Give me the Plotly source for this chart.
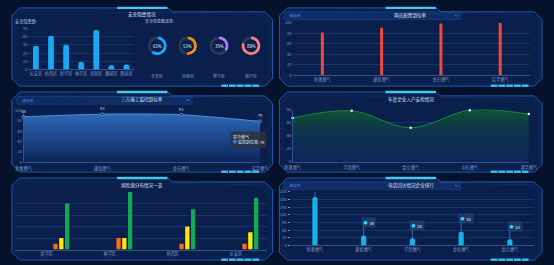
import plotly.graph_objects as go

W, H = 554, 265
FONT = "Noto Sans CJK SC"

# ---------------- data ----------------
p1_districts = ["长安区", "桥西区", "新华区", "裕华区", "高新区", "藁城区", "鹿泉区"]
p1_hazards = [29, 41, 30, 9, 48, 5, 6]
p1_rate_districts = ["长安区", "桥西区", "新华区", "裕华区"]
p1_rates = [61, 51, 35, 80]

p2_companies = ["新奥燃气", "建投燃气", "金石燃气", "实华燃气"]
p2_rates = [81, 90, 98, 99]

p3_companies = ["新奥燃气", "建投燃气", "金石燃气", "实华燃气"]
p3_rates = [88, 93, 92, 79]

p4_companies = ["新奥燃气", "华润燃气", "昆仑燃气", "中石燃气", "港华燃气"]
p4_values = [67, 78, 52, 79, 73]

p5_districts = ["新华区", "裕华区", "桥西区", "长安区"]
p5_major = [1, 2, 1, 1]
p5_larger = [2, 2, 4, 3]
p5_general = [8, 10, 7, 9]

p6_companies = ["新奥燃气", "建投燃气", "华润燃气", "金和燃气", "昆仑燃气"]
p6_values = [190, 39, 28, 54, 24]

titles = ["安全隐患情况", "两员配置到位率", "三方施工监控到位率",
          "年度企业入户安检情况", "风险源分布情况一览", "电话回访情况企业排行"]

# ---------------- helpers ----------------
def X(px):
    return px / W

def Y(py):
    return 1 - py / H

TICK = "#8398c2"
GRID = "rgba(45,90,165,0.35)"
AXL = "rgba(70,120,200,0.6)"

def xaxis(x0, x1, anchor, **kw):
    d = dict(domain=[X(x0), X(x1)], anchor=anchor, showgrid=False, zeroline=False,
             tickfont=dict(size=4.2, color=TICK, family=FONT), ticks="",
             showline=True, linecolor=AXL, linewidth=0.6, fixedrange=True)
    d.update(kw)
    return d

def yaxis(ytop, ybot, anchor, rng, dtick, **kw):
    d = dict(domain=[Y(ybot), Y(ytop)], anchor=anchor, range=rng, dtick=dtick,
             showgrid=True, gridcolor=GRID, gridwidth=0.5, zeroline=False,
             tickfont=dict(size=4.2, color=TICK, family=FONT), ticks="",
             showline=False, linecolor=AXL, linewidth=0.6, fixedrange=True)
    d.update(kw)
    return d

fig = go.Figure()

# ---- panel 1: bars ----
fig.add_trace(go.Bar(x=p1_districts, y=p1_hazards, xaxis="x", yaxis="y", width=0.38,
                     marker=dict(color="#1aa8f2", cornerradius=2, line=dict(width=0)),
                     hoverinfo="skip", showlegend=False))

# ---- panel 1: donuts ----
donut_cx = [154, 185.3, 217.7, 250.7]
donut_cy = 42.7
donut_r = 9.6
donut_colors = ["#1ea6ff", "#ff8a1c", "#b07cf7", "#ff7d7d"]
for i, v in enumerate(p1_rates):
    cx = donut_cx[i]
    fig.add_trace(go.Pie(values=[v, 100 - v], hole=0.7, sort=False, direction="clockwise",
                         marker=dict(colors=[donut_colors[i], "#2b3957"], line=dict(width=0)),
                         textinfo="none", hoverinfo="skip", showlegend=False,
                         domain=dict(x=[X(cx - donut_r), X(cx + donut_r)],
                                     y=[Y(donut_cy + donut_r), Y(donut_cy - donut_r)])))

# ---- panel 2: thin bars ----
fig.add_trace(go.Bar(x=p2_companies, y=p2_rates, xaxis="x2", yaxis="y2", width=0.05,
                     marker=dict(color="#f2493a", line=dict(width=0)),
                     hoverinfo="skip", showlegend=False))

# ---- panel 3: blue area ----
fig.add_trace(go.Scatter(x=p3_companies, y=p3_rates, xaxis="x3", yaxis="y3",
                         mode="lines+markers+text", text=[str(v) for v in p3_rates],
                         textposition="top center",
                         textfont=dict(size=4.2, color="#c9d6ee", family=FONT),
                         line=dict(color="#4d8fe4", width=1, shape="spline", smoothing=0.6),
                         marker=dict(size=3, color="#123064", line=dict(color="#86b4f0", width=0.6)),
                         fill="tozeroy",
                         fillgradient=dict(type="vertical",
                                           colorscale=[[0, "rgba(13,38,90,0.95)"],
                                                       [1, "rgba(48,108,190,0.95)"]]),
                         hoverinfo="skip", showlegend=False, cliponaxis=False))

# ---- panel 4: green area ----
fig.add_trace(go.Scatter(x=p4_companies, y=p4_values, xaxis="x4", yaxis="y4",
                         mode="lines+markers",
                         line=dict(color="#16873f", width=1, shape="spline", smoothing=1.0),
                         marker=dict(size=2.5, color="#e6f0ff"),
                         fill="tozeroy",
                         fillgradient=dict(type="vertical",
                                           colorscale=[[0, "rgba(14,38,92,0.9)"],
                                                       [0.55, "rgba(14,52,78,0.9)"],
                                                       [1, "rgba(14,84,48,0.95)"]]),
                         hoverinfo="skip", showlegend=False, cliponaxis=False))

# ---- panel 5: grouped bars ----
p5_series = [(p5_major, "#ff6a10", 0.105), (p5_larger, "#ffe600", 0.197), (p5_general, "#13a852", 0.289)]
for vals, col, off in p5_series:
    fig.add_trace(go.Bar(x=p5_districts, y=vals, xaxis="x5", yaxis="y5", width=0.068, offset=off,
                         marker=dict(color=col, line=dict(width=0)),
                         hoverinfo="skip", showlegend=False))

# ---- panel 6: capsule bars ----
fig.add_trace(go.Bar(x=p6_companies, y=p6_values, xaxis="x6", yaxis="y6", width=0.105,
                     marker=dict(color="#12b4ea", cornerradius=3, line=dict(width=0)),
                     hoverinfo="skip", showlegend=False))

# ---------------- layout / axes ----------------
layout = dict(
    width=W, height=H, margin=dict(l=0, r=0, t=0, b=0),
    paper_bgcolor="#06112b", plot_bgcolor="rgba(0,0,0,0)",
    barmode="overlay", font=dict(family=FONT, color=TICK),
    xaxis=xaxis(21, 130, "y"),
    yaxis=yaxis(25, 67, "x", [0, 50], 10),
    xaxis2=xaxis(293.7, 538.4, "y2"),
    yaxis2=yaxis(19, 72.7, "x2", [0, 100], 20),
    xaxis3=xaxis(16, 260, "y3", type="category", range=[0, len(p3_companies) - 1],
                 ticklabelstandoff=2),
    yaxis3=yaxis(109, 161.7, "x3", [0, 100], 20, showgrid=False, showline=True),
    xaxis4=xaxis(293.7, 537.3, "y4", type="category", range=[0, len(p4_companies) - 1],
                 ticklabelstandoff=2),
    yaxis4=yaxis(108, 161.3, "x4", [0, 80], 20, showline=True),
    xaxis5=xaxis(7.5, 267.5, "y5", range=[-0.5, len(p5_districts) - 0.5]),
    yaxis5=yaxis(192.3, 251.3, "x5", [0, 10], 2, showticklabels=False),
    xaxis6=xaxis(291.5, 542.9, "y6", range=[-0.5, len(p6_companies) - 0.5]),
    yaxis6=yaxis(192.3, 247, "x6", [0, 210], 30, ticks="outside", ticklen=2,
                 tickcolor=TICK, tickwidth=0.5),
)
fig.update_layout(**layout)

# ---------------- panel frames ----------------
panels = [(4, 4, 273, 84), (280, 4, 551, 84),
          (4, 90, 273, 172), (280, 90, 551, 172),
          (4, 178, 273, 262), (280, 178, 551, 262)]

def path(pts):
    s = ""
    for i, (x, y) in enumerate(pts):
        s += ("M" if i == 0 else "L") + f"{X(x):.5f},{Y(y):.5f} "
    return s + "Z"

shapes = []
annotations = []
for k, (x0, y0, x1, y1) in enumerate(panels):
    c = (x0 + x1) / 2
    pts = [(x0, y0 + 8), (x0 + 8, y0), (c + 26, y0), (c + 31, y0 + 4),
           (x1 - 8, y0 + 4), (x1, y0 + 12), (x1, y1 - 8), (x1 - 8, y1),
           (x0 + 8, y1), (x0, y1 - 8)]
    shapes.append(dict(type="path", path=path(pts), xref="paper", yref="paper",
                       fillcolor="#0a1f4c", line=dict(color="#1d5cb0", width=1), layer="below"))
    inner = [(x0 + 3, y0 + 10), (x0 + 10, y0 + 3), (x1 - 10, y0 + 7), (x1 - 3, y0 + 14),
             (x1 - 3, y1 - 10), (x1 - 10, y1 - 3), (x0 + 10, y1 - 3), (x0 + 3, y1 - 10)]
    shapes.append(dict(type="path", path=path(inner), xref="paper", yref="paper",
                       fillcolor="rgba(0,0,0,0)", line=dict(color="rgba(40,100,190,0.25)", width=0.6),
                       layer="below"))
    # cyan top bar
    shapes.append(dict(type="rect", xref="paper", yref="paper",
                       x0=X(c - 26), x1=X(c + 26), y0=Y(y0 + 1.2), y1=Y(y0 - 1.2),
                       fillcolor="#48c6f2", line=dict(width=0), layer="below"))
    # bottom-right stripes
    for s in range(5):
        sx = x1 - 53 + s * 8
        shapes.append(dict(type="rect", xref="paper", yref="paper",
                           x0=X(sx), x1=X(sx + 7), y0=Y(y1 + 0.8), y1=Y(y1 - 1.6),
                           fillcolor="#3cc2f0", line=dict(width=0), layer="above"))
    # title
    ty = y0 + 6.6 if k == 0 else y0 + 7.8
    annotations.append(dict(text=titles[k], x=X(c), y=Y(ty), xref="paper", yref="paper",
                            showarrow=False, xanchor="center", yanchor="middle",
                            font=dict(size=4.6, color="#dfe8f7", family=FONT)))

# dropdown boxes
for (bx0, bx1, by0, by1) in [(285, 467, 8, 16), (9, 190, 94.5, 102.5), (285, 467, 182, 190)]:
    shapes.append(dict(type="rect", xref="paper", yref="paper", x0=X(bx0), x1=X(bx1),
                       y0=Y(by1), y1=Y(by0), fillcolor="rgba(30,80,165,0.28)",
                       line=dict(color="rgba(60,120,210,0.45)", width=0.5), layer="below"))
    annotations.append(dict(text="请选择", x=X(bx0 + 3), y=Y((by0 + by1) / 2), xref="paper", yref="paper",
                            showarrow=False, xanchor="left", yanchor="middle",
                            font=dict(size=3.8, color="#3f86ff", family=FONT)))
    my = (by0 + by1) / 2
    shapes.append(dict(type="path", xref="paper", yref="paper",
                       path=f"M{X(bx1-6):.5f},{Y(my-1):.5f} L{X(bx1-4.5):.5f},{Y(my+0.6):.5f} L{X(bx1-3):.5f},{Y(my-1):.5f}",
                       line=dict(color="#8aa2c8", width=0.6)))

# panel 1 sub captions
annotations.append(dict(text="安全隐患数:", x=X(5), y=Y(17.5), xref="paper", yref="paper", showarrow=False,
                        xanchor="left", yanchor="middle", font=dict(size=4.2, color="#a9c2ea", family=FONT)))
annotations.append(dict(text="安全隐患整改率:", x=X(139), y=Y(17.8), xref="paper", yref="paper", showarrow=False,
                        xanchor="left", yanchor="middle", font=dict(size=4.0, color="#a9c2ea", family=FONT)))
for i, v in enumerate(p1_rates):
    annotations.append(dict(text=f"{v}%", x=X(donut_cx[i]), y=Y(donut_cy), xref="paper", yref="paper",
                            showarrow=False, xanchor="center", yanchor="middle",
                            font=dict(size=4.3, color="#ffffff", family=FONT)))
    annotations.append(dict(text=p1_rate_districts[i], x=X(donut_cx[i]), y=Y(74), xref="paper", yref="paper",
                            showarrow=False, xanchor="center", yanchor="middle",
                            font=dict(size=4, color=TICK, family=FONT)))

# panel 3 tooltip
last = len(p3_rates) - 1
annotations.append(dict(text=f"{p3_companies[last]}<br><span style='color:#3d7fe0'>●</span> 监控到位率: {p3_rates[last]}",
                        x=X(229), y=Y(130), xref="paper", yref="paper", showarrow=False,
                        xanchor="left", yanchor="top", align="left",
                        bgcolor="rgba(45,50,66,0.85)", borderpad=2,
                        font=dict(size=4, color="#e6ecf5", family=FONT)))

# panel 6 leader lines + bubbles
bubble_gap = 50
ymax6 = 210
for i, v in enumerate(p6_values):
    shapes.append(dict(type="line", xref="x6", yref="y6", x0=i, x1=i, y0=v,
                       y1=min(v + bubble_gap, ymax6), line=dict(color="#7f95bb", width=0.6)))
    if v + bubble_gap <= ymax6:
        annotations.append(dict(text=f"<span style='color:#29d3ff'>●</span>  {v}", x=p6_companies[i],
                                y=v + bubble_gap, xref="x6", yref="y6", showarrow=False,
                                xanchor="left", yanchor="middle", xshift=-3,
                                bgcolor="rgba(38,66,112,0.75)", borderpad=1.5,
                                font=dict(size=4, color="#e6ecf5", family=FONT)))

fig.update_layout(shapes=shapes, annotations=annotations)
fig.write_html("out.html")
